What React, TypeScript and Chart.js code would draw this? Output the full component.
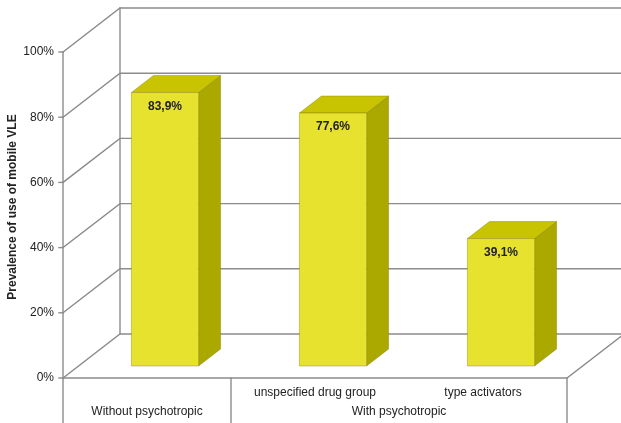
import React, { useEffect, useRef } from "react";
import { Chart, registerables } from "chart.js";

Chart.register(...registerables);

// Chart data
const innerLabels = ["", "unspecified drug group", "type activators"];
const groupLabels = ["Without psychotropic", "With psychotropic"];
const groupSizes = [1, 2];
const prevalence = [83.9, 77.6, 39.1];
const yTitle = "Prevalence of use of mobile VLE";

const FONT = "'Liberation Sans', Arial, sans-serif";

// Oblique projection of the box and the bars inside it
const WALL = { dx: 57, dy: -44 };
const BAR_FRONT = { dx: 18, dy: -12 };
const BAR_DEPTH = { dx: 22, dy: -17 };

const GRID_COLOR = "#8c8c8c";
const FACE_FRONT = "#e6e22e";
const FACE_TOP = "#c8c402";
const FACE_SIDE = "#aba800";

function line(ctx: CanvasRenderingContext2D, pts: number[][]) {
  ctx.beginPath();
  ctx.moveTo(pts[0][0], pts[0][1]);
  for (let i = 1; i < pts.length; i++) ctx.lineTo(pts[i][0], pts[i][1]);
  ctx.stroke();
}

function poly(ctx: CanvasRenderingContext2D, pts: number[][], fill: string) {
  ctx.beginPath();
  ctx.moveTo(pts[0][0], pts[0][1]);
  for (let i = 1; i < pts.length; i++) ctx.lineTo(pts[i][0], pts[i][1]);
  ctx.closePath();
  ctx.fillStyle = fill;
  ctx.fill();
  ctx.strokeStyle = "rgba(120,116,0,0.45)";
  ctx.lineWidth = 0.8;
  ctx.stroke();
}

const box3d = {
  id: "box3d",
  beforeDatasetsDraw(chart: any) {
    const ctx: CanvasRenderingContext2D = chart.ctx;
    const { left, right, top, bottom } = chart.chartArea;
    const ys = chart.scales.y;
    const xs = chart.scales.x;
    const H = chart.height;
    ctx.save();
    ctx.strokeStyle = GRID_COLOR;
    ctx.lineWidth = 1.4;
    ctx.lineCap = "square";

    // walls: one line per tick, along the left wall then across the back wall
    ys.ticks.forEach((t: any) => {
      const y = ys.getPixelForValue(t.value);
      line(ctx, [
        [left, y],
        [left + WALL.dx, y + WALL.dy],
        [right + WALL.dx, y + WALL.dy],
      ]);
      line(ctx, [
        [left - 4, y],
        [left, y],
      ]);
    });

    // back corner and front edge of the left wall
    line(ctx, [
      [left + WALL.dx, top + WALL.dy],
      [left + WALL.dx, bottom + WALL.dy],
    ]);
    line(ctx, [
      [left, top],
      [left, H],
    ]);

    // floor
    line(ctx, [
      [left, bottom],
      [right, bottom],
      [right + WALL.dx, bottom + WALL.dy],
    ]);

    // group dividers under the axis
    let idx = 0;
    groupSizes.forEach((n) => {
      idx += n;
      const x =
        idx >= innerLabels.length
          ? right
          : (xs.getPixelForValue(idx - 1) + xs.getPixelForValue(idx)) / 2;
      line(ctx, [
        [x, bottom],
        [x, H],
      ]);
    });
    ctx.restore();
  },
  afterDatasetsDraw(chart: any) {
    const ctx: CanvasRenderingContext2D = chart.ctx;
    const meta = chart.getDatasetMeta(0);
    ctx.save();
    meta.data.forEach((bar: any, i: number) => {
      const { x, y, base, width } = bar.getProps(["x", "y", "base", "width"], true);
      const x0 = x - width / 2 + BAR_FRONT.dx;
      const x1 = x + width / 2 + BAR_FRONT.dx;
      const y0 = y + BAR_FRONT.dy;
      const y1 = base + BAR_FRONT.dy;
      const { dx, dy } = BAR_DEPTH;
      // side
      poly(ctx, [[x1, y0], [x1 + dx, y0 + dy], [x1 + dx, y1 + dy], [x1, y1]], FACE_SIDE);
      // top
      poly(ctx, [[x0, y0], [x0 + dx, y0 + dy], [x1 + dx, y0 + dy], [x1, y0]], FACE_TOP);
      // front
      poly(ctx, [[x0, y0], [x1, y0], [x1, y1], [x0, y1]], FACE_FRONT);

      // value label
      ctx.fillStyle = "#222";
      ctx.font = `bold 12px ${FONT}`;
      ctx.textAlign = "center";
      ctx.textBaseline = "middle";
      ctx.fillText(prevalence[i].toFixed(1).replace(".", ",") + "%", (x0 + x1) / 2, y0 + 14);
    });
    ctx.restore();
  },
  afterDraw(chart: any) {
    const ctx: CanvasRenderingContext2D = chart.ctx;
    const { left, right, top, bottom } = chart.chartArea;
    const xs = chart.scales.x;
    ctx.save();
    ctx.fillStyle = "#222";
    ctx.font = `12px ${FONT}`;
    ctx.textAlign = "center";
    ctx.textBaseline = "middle";

    // inner category row
    innerLabels.forEach((lab, i) => {
      if (lab) ctx.fillText(lab, xs.getPixelForValue(i), bottom + 15);
    });

    // group row
    let idx = 0;
    groupLabels.forEach((lab, g) => {
      const first = idx;
      idx += groupSizes[g];
      const last = idx - 1;
      const half = (xs.getPixelForValue(1) - xs.getPixelForValue(0)) / 2;
      const xa = xs.getPixelForValue(first) - half;
      const xb = Math.min(xs.getPixelForValue(last) + half, right);
      ctx.fillText(lab, (xa + xb) / 2, bottom + 34);
    });

    // y-axis title
    ctx.font = `bold 12px ${FONT}`;
    ctx.translate(13, (top + bottom) / 2 - 8);
    ctx.rotate(-Math.PI / 2);
    ctx.fillText(yTitle, 0, 0);
    ctx.restore();
  },
};

export default function App() {
  const canvasRef = useRef<HTMLCanvasElement | null>(null);

  useEffect(() => {
    document.body.style.margin = "0";
    const canvas = canvasRef.current;
    if (!canvas) return;
    const chart = new Chart(canvas, {
      type: "bar",
      data: {
        labels: innerLabels.map((l, i) => l || groupLabels[0]),
        datasets: [
          {
            data: prevalence,
            backgroundColor: "rgba(0,0,0,0)",
            borderWidth: 0,
            barPercentage: 0.4,
            categoryPercentage: 1,
          },
        ],
      },
      options: {
        animation: false,
        responsive: true,
        maintainAspectRatio: false,
        layout: { padding: { top: 52, right: 54, bottom: 45, left: 0 } },
        plugins: {
          legend: { display: false },
          tooltip: { enabled: false },
        },
        scales: {
          x: { display: false },
          y: {
            min: 0,
            max: 100,
            afterFit: (scale: any) => {
              scale.width = 63;
            },
            ticks: {
              stepSize: 20,
              padding: 9,
              color: "#222",
              font: { family: FONT, size: 12 },
              callback: (v: any) => v + "%",
            },
            grid: { display: false, drawTicks: false },
            border: { display: false },
          },
        },
      },
      plugins: [box3d],
    });
    return () => chart.destroy();
  }, []);

  return (
    <div style={{ position: "absolute", left: 0, top: 0, width: 621, height: 423, background: "#fff" }}>
      <canvas ref={canvasRef} />
    </div>
  );
}
